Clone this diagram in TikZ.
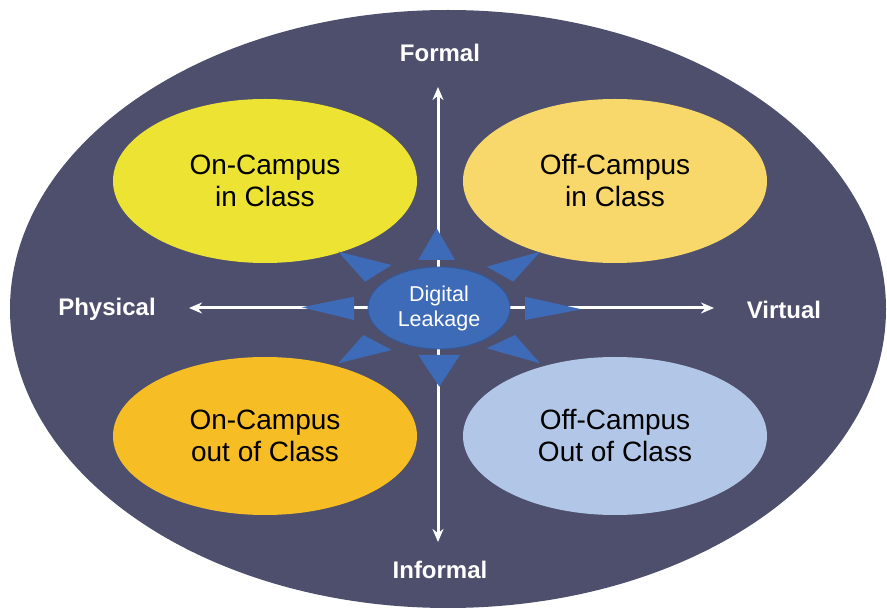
\documentclass[tikz,border=0pt]{standalone}
\usepackage{fontspec}
\setmainfont{Liberation Sans}
\usetikzlibrary{shapes.geometric,arrows.meta}
\definecolor{bgdark}{HTML}{4D4F6D}
\definecolor{qyellow}{HTML}{ECE332}
\definecolor{qgold}{HTML}{F8D76B}
\definecolor{qorange}{HTML}{F7BD24}
\definecolor{qblue}{HTML}{B2C7E7}
\definecolor{leak}{HTML}{3E6BB8}
\definecolor{leakedge}{HTML}{2F5A9F}
\tikzset{
  quad/.style={ellipse, minimum width=304pt, minimum height=164pt, inner sep=0pt,
    align=center, text=black, font=\fontsize{28}{32}\selectfont},
  axislabel/.style={text=white, font=\fontsize{24}{28}\selectfont\bfseries, inner sep=0pt},
  axisline/.style={draw=white, line width=3pt, {Stealth[length=13pt,width=11pt]}-{Stealth[length=13pt,width=11pt]}},
  leaktri/.style={fill=leak, draw=none}
}
\begin{document}
\begin{tikzpicture}[x=1pt,y=-1pt]
\useasboundingbox (0,0) rectangle (887,609);
% outer ellipse
\node[ellipse, fill=bgdark, minimum width=876pt, minimum height=598pt, inner sep=0pt] (outer) at (448,309) {};
% quadrant ellipses
\node[quad, fill=qyellow] (onin) at (265,181) {On-Campus\\in Class};
\node[quad, fill=qgold] (offin) at (615,181) {Off-Campus\\in Class};
\node[quad, fill=qorange, minimum height=158pt] (onout) at (265,436) {On-Campus\\out of Class};
\node[quad, fill=qblue, minimum height=158pt] (offout) at (615,436) {Off-Campus\\Out of Class};
% axes
\coordinate (vtop) at (438,87);
\coordinate (vbot) at (438,542);
\coordinate (hleft) at (189,308);
\coordinate (hright) at (714,308);
\draw[axisline] (vbot) -- (vtop);
\draw[axisline] (hleft) -- (hright);
% axis labels
\node[axislabel] (formal) at (440,53) {Formal};
\node[axislabel] (informal) at (440,570) {Informal};
\node[axislabel] (physical) at (107,309) {Physical};
\node[axislabel] (virtual) at (784,310) {Virtual};
% triangles
\fill[leaktri] (436.7,228.3) -- (418.3,260) -- (455,260) -- cycle;
\fill[leaktri] (439.3,386.7) -- (418.3,355) -- (460,355) -- cycle;
\fill[leaktri] (301.7,307.3) -- (354,296.7) -- (354,320) -- cycle;
\fill[leaktri] (581.7,309.3) -- (525,296.7) -- (525,320) -- cycle;
\fill[leaktri] (338.3,251.7) -- (365,281.7) -- (391.7,265) -- cycle;
\fill[leaktri] (540,251.7) -- (486.7,266.7) -- (513.3,281.7) -- cycle;
\fill[leaktri] (338.3,363.3) -- (363.3,335) -- (391.7,350) -- cycle;
\fill[leaktri] (540,363.3) -- (486.7,348.3) -- (515,335) -- cycle;
% center
\node[ellipse, fill=leak, draw=leakedge, line width=0.8pt, minimum width=142pt, minimum height=82pt,
  inner sep=0pt, align=center, text=white, font=\fontsize{21.5}{25}\selectfont] (leakage) at (439,308) {Digital\\Leakage};
\end{tikzpicture}
\end{document}
